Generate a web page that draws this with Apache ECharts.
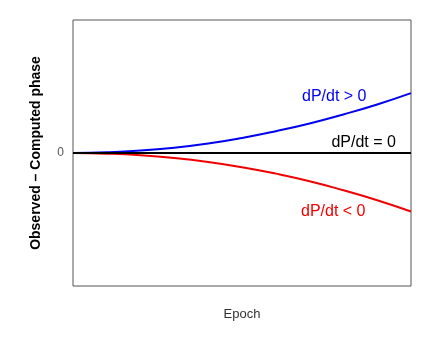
<!DOCTYPE html>
<html>
<head>
<meta charset="utf-8">
<script src="https://cdn.jsdelivr.net/npm/echarts@6/dist/echarts.min.js"></script>
<style>
  html, body { margin: 0; padding: 0; background: #fff; }
  #chart { width: 440px; height: 340px; }
</style>
</head>
<body>
<div id="chart"></div>
<script>
  // epoch steps and O-C values
  const epochs = [0, 1, 2, 3, 4, 5, 6, 7, 8, 9, 10]
  const increasing = [0, 0.005, 0.018, 0.04, 0.071, 0.113, 0.164, 0.222, 0.29, 0.365, 0.45]
  const constant = [0, 0, 0, 0, 0, 0, 0, 0, 0, 0, 0]
  const decreasing = [0, -0.005, -0.017, -0.038, -0.068, -0.107, -0.155, -0.212, -0.28, -0.355, -0.44]
  const yTicks = [-1, 0, 1]
  const curveNames = ['dP/dt > 0', 'dP/dt = 0', 'dP/dt < 0']
  // where each curve's caption sits, in data units [epoch, O-C]
  const captionAt = [[7.73, 0.425], [8.6, 0.078], [7.7, -0.44]]

  const pairs = (ys) => epochs.map((x, i) => [x, ys[i]])

  function curve(name, ys, color, at) {
    return {
      name: name,
      type: 'line',
      smooth: true,
      showSymbol: false,
      silent: true,
      lineStyle: { color: color, width: 2 },
      data: pairs(ys),
      markPoint: {
        symbol: 'circle',
        symbolSize: 1,
        silent: true,
        itemStyle: { color: 'rgba(0,0,0,0)' },
        label: {
          show: true,
          position: 'inside',
          formatter: name,
          color: color,
          fontFamily: 'Liberation Sans',
          fontSize: 16
        },
        data: [{ coord: at }]
      }
    }
  }

  const chart = echarts.init(document.getElementById('chart'))
  chart.setOption({
    animation: false,
    grid: {
      left: 73, right: 29, top: 20, bottom: 54,
      show: true,
      borderColor: '#555',
      borderWidth: 1
    },
    xAxis: {
      type: 'value',
      min: 0,
      max: 10,
      name: 'Epoch',
      nameLocation: 'middle',
      nameGap: 22,
      nameTextStyle: { color: '#333', fontSize: 13, fontFamily: 'Liberation Sans' },
      axisLine: { show: false },
      axisTick: { show: false },
      axisLabel: { show: false },
      splitLine: { show: false }
    },
    yAxis: {
      type: 'value',
      min: yTicks[0],
      max: yTicks[yTicks.length - 1],
      interval: 1,
      name: 'Observed \u2013 Computed phase',
      nameLocation: 'middle',
      nameGap: 30,
      nameTextStyle: { color: '#000', fontSize: 14, fontWeight: 'bold', fontFamily: 'Liberation Sans' },
      axisLine: { show: false },
      axisTick: { show: false },
      axisLabel: {
        color: '#555',
        fontSize: 12,
        margin: 9,
        fontFamily: 'Liberation Sans',
        formatter: (v) => (v === 0 ? '0' : '')
      },
      splitLine: { show: false }
    },
    series: [
      curve(curveNames[2], decreasing, '#f00000', captionAt[2]),
      curve(curveNames[0], increasing, '#0000f0', captionAt[0]),
      curve(curveNames[1], constant, '#000', captionAt[1])
    ]
  })
</script>
</body>
</html>
